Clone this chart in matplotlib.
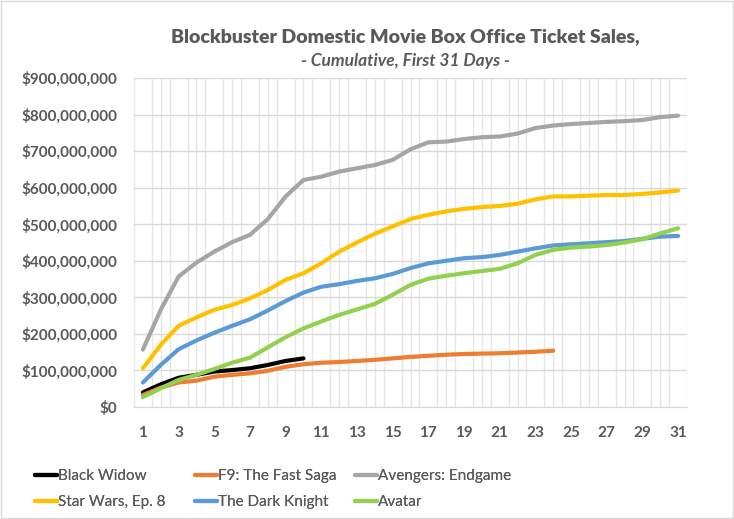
import numpy as np
import matplotlib
matplotlib.use('Agg')
import matplotlib.pyplot as plt
from matplotlib.ticker import FuncFormatter, MultipleLocator

plt.rcParams['font.family'] = ['Lato', 'DejaVu Sans']

# cumulative domestic gross, millions of dollars, by day
days = list(range(1, 32))

black_widow = [40, 62, 80, 88, 97, 101, 106, 115, 126, 133]
f9 = [33, 53, 67, 72, 83, 88, 92, 99, 110, 117, 121, 123, 126, 129, 133, 137,
      140, 143, 145, 146, 147, 149, 151, 154]
endgame = [157, 266, 357, 395, 425, 451, 471, 514, 576, 621, 630, 644, 653,
           662, 676, 705, 724, 726, 733, 738, 740, 748, 763, 770, 774, 777,
           780, 782, 785, 793, 797]
star_wars8 = [106, 170, 222, 245, 266, 279, 297, 320, 348, 366, 393, 425, 450,
              474, 494, 514, 526, 535, 542, 547, 550, 556, 568, 576, 576, 578,
              580, 580, 583, 587, 592]
dark_knight = [67, 115, 158, 182, 203, 222, 240, 264, 290, 313, 329, 336, 345,
               352, 364, 380, 393, 400, 407, 410, 416, 425, 434, 442, 445, 448,
               451, 454, 460, 466, 468]
avatar = [27, 51, 74, 88, 104, 121, 135, 163, 191, 215, 234, 252, 267, 282,
          307, 334, 351, 359, 366, 372, 378, 393, 416, 430, 436, 439, 443,
          450, 459, 475, 489]

names = ['Black Widow', 'F9: The Fast Saga', 'Avengers: Endgame',
         'Star Wars, Ep. 8', 'The Dark Knight', 'Avatar']
series = [black_widow, f9, endgame, star_wars8, dark_knight, avatar]
colors = ['#000000', '#ED7D31', '#A5A5A5', '#FFC000', '#5B9BD5', '#92D050']

txt = '#595959'

fig = plt.figure(figsize=(7.34, 5.19), dpi=100)
ax = fig.add_axes([134/734, 1 - 407/519, (687-134)/734, (407-78)/519])

lines = {}
for name, vals, c in zip(names, series, colors):
    ln, = ax.plot(days[:len(vals)], np.array(vals) * 1e6, color=c, lw=3,
                  solid_capstyle='round', solid_joinstyle='round', zorder=3)
    lines[name] = ln

ax.set_xlim(0.5, 31.5)
ax.set_ylim(0, 900e6)
ax.set_xticks(days[::2])
ax.xaxis.set_minor_locator(MultipleLocator(0.5))
ax.yaxis.set_major_locator(MultipleLocator(100e6))
ax.yaxis.set_major_formatter(FuncFormatter(lambda v, p: '${:,.0f}'.format(v)))

ax.grid(True, which='major', axis='y', color='#D9D9D9', lw=1)
ax.grid(True, which='minor', axis='x', color='#E6E6E6', lw=1)
ax.set_axisbelow(True)
for s in ['top', 'right', 'left']:
    ax.spines[s].set_visible(False)
ax.spines['bottom'].set_color('#D9D9D9')
ax.tick_params(which='both', length=0)
ax.tick_params(axis='x', pad=14)
ax.tick_params(axis='y', pad=12)
for lab in ax.get_xticklabels() + ax.get_yticklabels():
    lab.set_fontweight('bold')
    lab.set_color(txt)
    lab.set_fontsize(11)

fig.text(0.552, 1 - 37/519, 'Blockbuster Domestic Movie Box Office Ticket Sales,',
         ha='center', va='center', fontsize=14, fontweight='heavy', color=txt)
fig.text(0.552, 1 - 61/519, '- Cumulative, First 31 Days -',
         ha='center', va='center', fontsize=12.5, fontweight='bold',
         style='italic', color=txt)

# legend laid out in three columns, two rows (row-major order like Excel)
col_x = [35, 195, 355]
for i, x in enumerate(col_x):
    col_names = [names[i], names[i + 3]]
    leg = fig.legend([lines[n] for n in col_names], col_names,
                     loc='upper left', bbox_to_anchor=(x/734, 1 - 469/519),
                     frameon=False, handlelength=1.45, handletextpad=0.05,
                     labelspacing=0.78, borderaxespad=0, borderpad=0,
                     prop={'size': 11})
    for t in leg.get_texts():
        t.set_color(txt)
    fig.add_artist(leg)

fig.patches.append(plt.Rectangle((0.001, 0.001), 0.998, 0.998, fill=False,
                                 edgecolor='#D9D9D9', lw=1,
                                 transform=fig.transFigure))

fig.savefig('out.png', dpi=100)
